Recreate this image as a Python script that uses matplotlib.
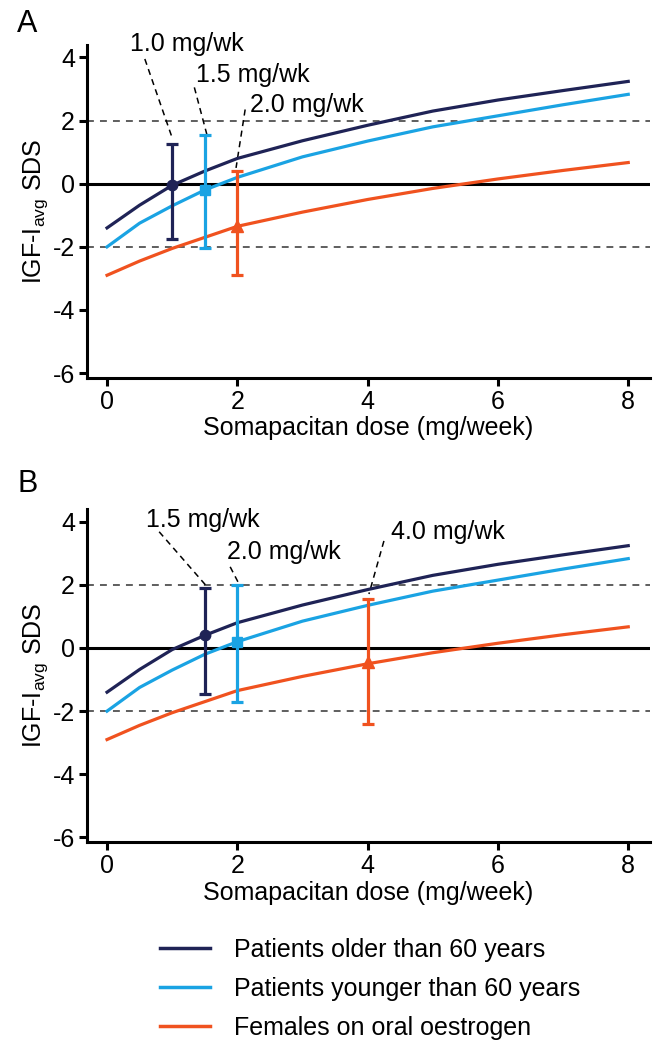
import numpy as np
import matplotlib.pyplot as plt

plt.rcParams['font.family'] = ['Liberation Sans', 'DejaVu Sans']
plt.rcParams['mathtext.fontset'] = 'custom'
plt.rcParams['mathtext.rm'] = 'Liberation Sans'
plt.rcParams['axes.unicode_minus'] = False

# ----- Datos -----
dosis = [0, 0.5, 1, 1.5, 2, 3, 4, 5, 6, 7, 8]
mayores_60 = [-1.4, -0.68, -0.05, 0.4, 0.8, 1.36, 1.85, 2.3, 2.65, 2.95, 3.24]
menores_60 = [-2.0, -1.25, -0.7, -0.2, 0.2, 0.85, 1.35, 1.8, 2.15, 2.5, 2.83]
estrogeno = [-2.9, -2.45, -2.05, -1.7, -1.35, -0.9, -0.5, -0.15, 0.15, 0.42, 0.67]

etiquetas = ['Patients older than 60 years', 'Patients younger than 60 years',
             'Females on oral oestrogen']
colores = ['#1f2356', '#1aa3e3', '#f0521f']
marcadores = ['o', 's', '^']
tam_marcador = [7.5, 7, 8]

# panel A: dosis recomendada, media, limite superior, limite inferior
dosis_A = [1.0, 1.5, 2.0]
media_A = [-0.05, -0.2, -1.35]
sup_A = [1.25, 1.55, 0.4]
inf_A = [-1.75, -2.05, -2.9]
textos_A = ['1.0 mg/wk', '1.5 mg/wk', '2.0 mg/wk']

# panel B
dosis_B = [1.5, 2.0, 4.0]
media_B = [0.4, 0.2, -0.45]
sup_B = [1.9, 2.0, 1.55]
inf_B = [-1.45, -1.7, -2.4]
textos_B = ['1.5 mg/wk', '2.0 mg/wk', '4.0 mg/wk']

# posiciones de las anotaciones (texto, inicio linea, fin linea)
anot_A = [((1.22, 4.42), (0.58, 3.95), (1.0, 1.45)),
          ((2.24, 3.43), (1.34, 3.05), (1.55, 1.42)),
          ((3.06, 2.48), (2.12, 2.35), (1.98, 0.5))]
anot_B = [((1.47, 4.05), (0.8, 3.68), (1.51, 2.0)),
          ((2.71, 3.05), (1.89, 2.57), (2.02, 2.05)),
          ((5.23, 3.68), (4.25, 3.39), (4.02, 1.71))]

fs = 18

fig = plt.figure(figsize=(6.53, 10.41), dpi=100)
ax_A = fig.add_axes([0.133, 0.637, 0.862, 0.320])
ax_B = fig.add_axes([0.133, 0.191, 0.862, 0.320])


def graficar_panel(ax, dosis_p, media_p, sup_p, inf_p, textos, anot, letra, y_letra):
    ax.axhline(2, color='#333333', lw=1.1, ls=(0, (4.5, 4)), zorder=1)
    ax.axhline(-2, color='#333333', lw=1.1, ls=(0, (4.5, 4)), zorder=1)
    ax.axhline(0, color='black', lw=2.2, zorder=1)
    curvas = [mayores_60, menores_60, estrogeno]
    for i in range(3):
        ax.plot(dosis, curvas[i], color=colores[i], lw=2.3, zorder=3)
        err = [[media_p[i] - inf_p[i]], [sup_p[i] - media_p[i]]]
        ax.errorbar([dosis_p[i]], [media_p[i]], yerr=err, color=colores[i],
                    marker=marcadores[i], ms=tam_marcador[i], lw=2.3,
                    capsize=4, capthick=2.3, zorder=4)
    for txt, (pos, ini, fin) in zip(textos, anot):
        ax.text(pos[0], pos[1], txt, fontsize=fs, ha='center', va='center')
        ax.plot([ini[0], fin[0]], [ini[1], fin[1]], color='black', lw=1.1,
                ls=(0, (4, 3)), zorder=2)
    ax.set_xlim(-0.31, 8.33)
    ax.set_ylim(-6.15, 4.4)
    ax.set_xticks([0, 2, 4, 6, 8])
    ax.set_yticks([-6, -4, -2, 0, 2, 4])
    ax.spines['top'].set_visible(False)
    ax.spines['right'].set_visible(False)
    ax.spines['left'].set_linewidth(2.2)
    ax.spines['bottom'].set_linewidth(2.2)
    ax.tick_params(labelsize=fs, width=2.2, length=5.5, pad=3)
    ax.set_xlabel('Somapacitan dose (mg/week)', fontsize=fs, labelpad=2)
    ax.set_ylabel(r'IGF-I$_{\mathregular{avg}}$ SDS', fontsize=fs, labelpad=2)
    ax.text(-0.124, y_letra, letra, transform=ax.transAxes, fontsize=22,
            ha='left', va='baseline')


graficar_panel(ax_A, dosis_A, media_A, sup_A, inf_A, textos_A, anot_A, 'A', 1.039)
graficar_panel(ax_B, dosis_B, media_B, sup_B, inf_B, textos_B, anot_B, 'B', 1.051)

# leyenda
manejadores = [plt.Line2D([], [], color=c, lw=2.5) for c in colores]
fig.legend(manejadores, etiquetas, loc='upper left',
           bbox_to_anchor=(0.211, 0.121), frameon=False, fontsize=fs,
           handlelength=2.0, handletextpad=0.95, labelspacing=0.6)

fig.savefig('out.png', dpi=100)
